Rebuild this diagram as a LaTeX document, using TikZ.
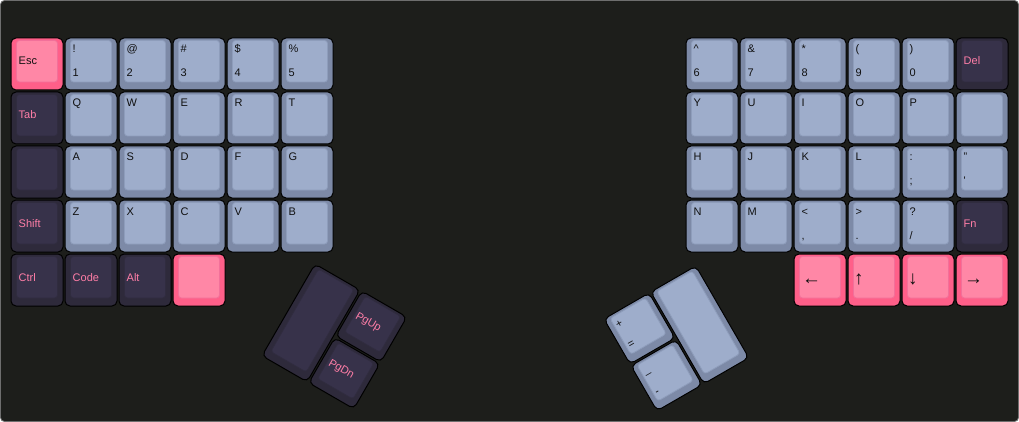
\documentclass[tikz,border=0pt]{standalone}
\usepackage{fontspec}
\setmainfont{Liberation Sans}
\definecolor{bgcol}{HTML}{1D1E1B}
\definecolor{framecol}{HTML}{6E6E6E}
\definecolor{lightout}{HTML}{7D8AA7}
\definecolor{lightin}{HTML}{9EADCB}
\definecolor{lightln}{HTML}{8E9DBB}
\definecolor{lighttx}{HTML}{111111}
\definecolor{pinkout}{HTML}{FF5F89}
\definecolor{pinkin}{HTML}{FF87A6}
\definecolor{pinkln}{HTML}{F2709A}
\definecolor{pinktx}{HTML}{111111}
\definecolor{darkout}{HTML}{2E2A3B}
\definecolor{darkin}{HTML}{37324A}
\definecolor{darkln}{HTML}{302C3F}
\definecolor{darktx}{HTML}{FF7EA7}
\newcounter{kc}
\tikzset{
  kout/.style={fill=#1out, draw=black, line width=1pt, rounded corners=5pt},
  kin/.style={fill=#1in, draw=#1ln, line width=0.8pt, rounded corners=3pt},
  lg/.style={inner sep=0pt, anchor=base west, font=\fontsize{11}{13}\selectfont, text=#1tx},
  arr/.style={inner sep=0pt, anchor=base west, font=\fontsize{19}{21}\selectfont, text=pinktx},
}
% body of a key (blank key)
\newcommand\kb[4][52]{% h x y type
  \draw[kout=#4] (#2,#3) rectangle ({#2+52},{#3+#1});
  \draw[kin=#4] ({#2+5.5},{#3+2.5}) rectangle ({#2+46.5},{#3+#1-8});
}
% key with top and bottom legend
\newcommand\kc[5]{%
  \stepcounter{kc}%
  \kb{#1}{#2}{#3}%
  \node[lg=#3] (k\arabic{kc}a) at ({#1+7.5},{#2+15}) {#4};
  \node[lg=#3] (k\arabic{kc}b) at ({#1+7.5},{#2+39}) {#5};
}
% key with top legend only
\newcommand\kt[4]{%
  \stepcounter{kc}%
  \kb{#1}{#2}{#3}%
  \node[lg=#3] (k\arabic{kc}a) at ({#1+7.5},{#2+15}) {#4};
}
% key with one middle legend
\newcommand\km[4]{%
  \stepcounter{kc}%
  \kb{#1}{#2}{#3}%
  \node[lg=#3] (k\arabic{kc}m) at ({#1+7.5},{#2+27}) {#4};
}
% arrow key
\newcommand\ka[4]{% x y glyph xoff
  \stepcounter{kc}%
  \kb{#1}{#2}{pink}%
  \node[arr] (k\arabic{kc}r) at ({#1+#4},{#2+30}) {#3};
}
\begin{document}
\begin{tikzpicture}[x=1pt,y=-1pt]
\useasboundingbox (0,0) rectangle (1019,422);
\fill[white] (0,0) rectangle (1019,422);
\draw[fill=bgcol, draw=framecol, line width=0.8pt, rounded corners=4pt] (0.5,0.5) rectangle (1018.5,421.5);
% ---- left half ----
\km{11}{38}{pink}{Esc}
\kc{65}{38}{light}{!}{1}
\kc{119}{38}{light}{@}{2}
\kc{173}{38}{light}{\#}{3}
\kc{227}{38}{light}{\$}{4}
\kc{281}{38}{light}{\%}{5}
\km{11}{92}{dark}{Tab}
\kt{65}{92}{light}{Q}
\kt{119}{92}{light}{W}
\kt{173}{92}{light}{E}
\kt{227}{92}{light}{R}
\kt{281}{92}{light}{T}
\kb{11}{146}{dark}
\kt{65}{146}{light}{A}
\kt{119}{146}{light}{S}
\kt{173}{146}{light}{D}
\kt{227}{146}{light}{F}
\kt{281}{146}{light}{G}
\km{11}{200}{dark}{Shift}
\kt{65}{200}{light}{Z}
\kt{119}{200}{light}{X}
\kt{173}{200}{light}{C}
\kt{227}{200}{light}{V}
\kt{281}{200}{light}{B}
\km{11}{254}{dark}{Ctrl}
\km{65}{254}{dark}{Code}
\km{119}{254}{dark}{Alt}
\kb{173}{254}{pink}
% ---- right half ----
\kc{686}{38}{light}{\textasciicircum}{6}
\kc{740}{38}{light}{\&}{7}
\kc{794}{38}{light}{*}{8}
\kc{848}{38}{light}{(}{9}
\kc{902}{38}{light}{)}{0}
\km{956}{38}{dark}{Del}
\kt{686}{92}{light}{Y}
\kt{740}{92}{light}{U}
\kt{794}{92}{light}{I}
\kt{848}{92}{light}{O}
\kt{902}{92}{light}{P}
\kb{956}{92}{light}
\kt{686}{146}{light}{H}
\kt{740}{146}{light}{J}
\kt{794}{146}{light}{K}
\kt{848}{146}{light}{L}
\kc{902}{146}{light}{:}{;}
\kc{956}{146}{light}{"}{\textquotesingle}
\kt{686}{200}{light}{N}
\kt{740}{200}{light}{M}
\kc{794}{200}{light}{<}{,}
\kc{848}{200}{light}{>}{.}
\kc{902}{200}{light}{?}{/}
\km{956}{200}{dark}{Fn}
\ka{794}{254}{←}{8}
\ka{848}{254}{↑}{6}
\ka{902}{254}{↓}{6}
\ka{956}{254}{→}{8}
% ---- left thumb cluster ----
\begin{scope}[shift={(315,264)}, rotate=-30, transform shape]
\kb[106]{0}{0}{dark}
\km{54}{0}{dark}{PgUp}
\km{54}{54}{dark}{PgDn}
\end{scope}
% ---- right thumb cluster ----
\begin{scope}[shift={(604,319)}, rotate=30, transform shape]
\kc{0}{0}{light}{+}{=}
\kc{0}{54}{light}{\_}{-}
\kb[106]{54}{0}{light}
\end{scope}
\end{tikzpicture}
\end{document}
